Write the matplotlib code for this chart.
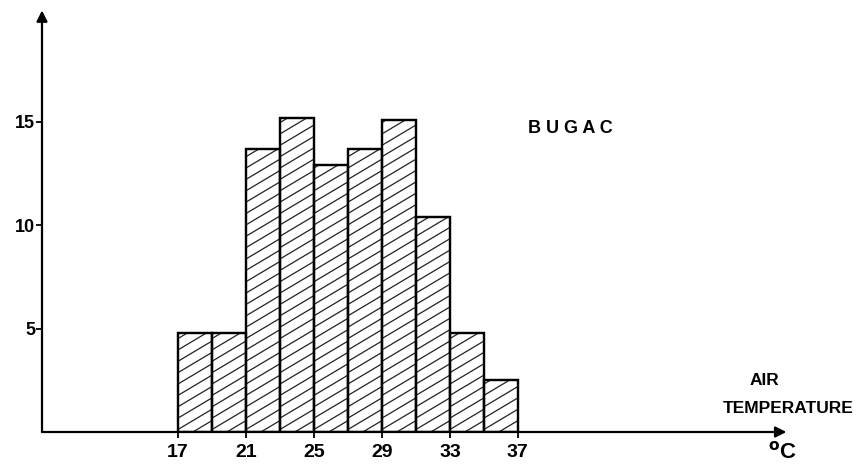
import numpy as np
import matplotlib
matplotlib.use("Agg")
import matplotlib.pyplot as plt

# class edges (deg C) and counts
edges = [17, 19, 21, 23, 25, 27, 29, 31, 33, 35, 37]
counts = [4.8, 4.8, 13.7, 15.2, 12.9, 13.7, 15.1, 10.4, 4.8, 2.5]
xticks = [17, 21, 25, 29, 33, 37]
yticks = [5, 10, 15]

plt.rcParams['font.family'] = ['Liberation Sans', 'DejaVu Sans']
plt.rcParams['font.weight'] = 'bold'

fig = plt.figure(figsize=(8.58, 4.66), dpi=100)
ax = fig.add_axes([42/858, 34/466, 758/858, 427/466])
ax.set_xlim(9, 53.6)
ax.set_ylim(0, 20.66)
for s in ax.spines.values():
    s.set_visible(False)

# hatch: shallow diagonal lines, clipped to each bar
slope = 0.49   # data units of y per unit of x (~30 deg on screen)
step = 0.55    # vertical spacing of hatch lines
for x0, x1, h in zip(edges[:-1], edges[1:], counts):
    w = x1 - x0
    bar = ax.bar(x0, h, width=w, align='edge', facecolor='white',
                 edgecolor='black', linewidth=1.6, zorder=2)[0]
    for c in np.arange(-w * slope, h + step, step):
        ln, = ax.plot([x0, x1], [c, c + w * slope], color='#222222',
                      lw=0.9, zorder=3)
        ln.set_clip_path(bar)
    ax.bar(x0, h, width=w, align='edge', fill=False,
           edgecolor='black', linewidth=1.6, zorder=4)

# axes with arrows
ax.annotate('', xy=(9, 20.4), xytext=(9, 0), annotation_clip=False,
            arrowprops=dict(arrowstyle='-|>', lw=1.6, color='black',
                            mutation_scale=16, shrinkA=0, shrinkB=0))
ax.annotate('', xy=(52.8, 0), xytext=(9, 0), annotation_clip=False,
            arrowprops=dict(arrowstyle='-|>', lw=1.6, color='black',
                            mutation_scale=16, shrinkA=0, shrinkB=0))

ax.set_xticks(xticks)
ax.set_xticklabels([str(t) for t in xticks])
ax.set_yticks(yticks)
ax.set_yticklabels([str(t) for t in yticks])
ax.tick_params(axis='x', direction='inout', length=9, width=1.3,
               labelsize=14, pad=4)
ax.tick_params(axis='y', direction='out', length=4, width=1.3,
               labelsize=13, pad=1)

ax.text(37.6, 14.7, 'B U G A C', fontsize=13, fontweight='bold',
        ha='left', va='center')
ax.text(51.5, 2.47, 'AIR', fontsize=12.5, fontweight='bold', ha='center',
        va='center')
ax.text(52.9, 1.16, 'TEMPERATURE', fontsize=12.5, fontweight='bold',
        ha='center', va='center')
ax.text(51.7, -1.0, r'$^{\mathbf{o}}$C', fontsize=16, fontweight='bold',
        ha='left', va='center')

fig.savefig('out.png', dpi=100, facecolor='white')
